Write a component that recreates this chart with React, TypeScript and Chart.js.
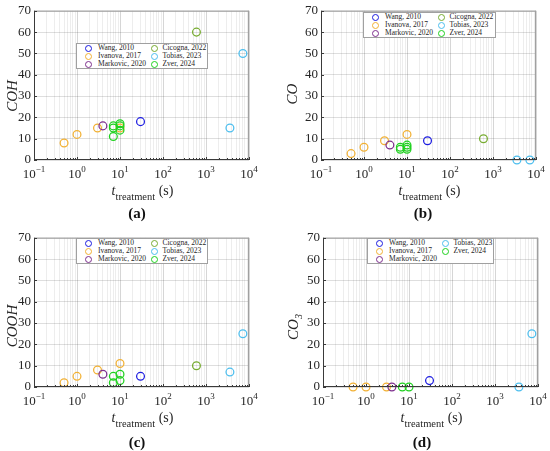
import { useEffect, useRef } from 'react'
import { Chart, registerables } from 'chart.js'
import type { Plugin } from 'chart.js'

Chart.register(...registerables)

const SERIF = '"Liberation Serif", "Times New Roman", serif'

// studies shown in the legends, with MATLAB-like marker colours
const studies = ['Wang, 2010', 'Ivanova, 2017', 'Markovic, 2020', 'Cicogna, 2022', 'Tobias, 2023', 'Zver, 2024']
const studyColors = ['#1c1ce0', '#f2b134', '#7e2f8e', '#77ac30', '#4dbeee', '#1fd11f']

// treatment times (s)
const tWang = [30]
const tIvanova = [0.5, 1, 3, 10]
const tIvanovaCO3 = [0.5, 1, 3]
const tMarkovic = [4]
const tCicogna = [600]
const tTobias = [3600, 7200]
const tZverCOH = [7, 7, 7, 10, 10, 10]
const tZverCO = [7, 7, 10, 10, 10]
const tZverCOOH = [7, 7, 10, 10]
const tZverCO3 = [7, 10]

// (a) COH
const cohWang = [18]
const cohIvanova = [8, 12, 15, 15]
const cohMarkovic = [16]
const cohCicogna = [60]
const cohTobias = [15, 50]
const cohZver = [11, 15, 16, 14, 16, 17]

// (b) CO
const coWang = [9]
const coIvanova = [3, 6, 9, 12]
const coMarkovic = [7]
const coCicogna = [10]
const coTobias = [0, 0]
const coZver = [5, 6, 5, 6, 7]

// (c) COOH
const coohWang = [5]
const coohIvanova = [2, 5, 8, 11]
const coohMarkovic = [6]
const coohCicogna = [10]
const coohTobias = [7, 25]
const coohZver = [2, 5, 3, 6]

// (d) CO3
const co3Wang = [3]
const co3Ivanova = [0, 0, 0]
const co3Markovic = [0]
const co3Tobias = [0, 25]
const co3Zver = [0, 0]

// axes
const xMin = 0.1
const xMax = 10000
const xDecades = [-1, 0, 1, 2, 3, 4]
const yMin = 0
const yMax = 70
const yStep = 10

// grid positions for the log axis: 1..9 x 10^n
const xGrid: number[] = []
xDecades.forEach((e) => {
  if (e === 4) { xGrid.push(10 ** e); return }
  for (let k = 1; k <= 9; k++) xGrid.push(Number((k * 10 ** e).toPrecision(3)))
})

type Series = [number, number[], number[]]

interface PanelDef {
  id: string
  left: number
  top: number
  width: number
  height: number
  areaLeft: number
  yName: string
  ySub: string
  yTitleX: number
  yTitleY: number
  series: Series[]
  legendCols: number[][]
  legend: { left: number; top: number; width: number }
  label: { x: number; y: number }
}

const panels: PanelDef[] = [
  {
    id: 'a', left: 0, top: 0, width: 275, height: 225, areaLeft: 34, yName: 'COH', ySub: '', yTitleX: 17, yTitleY: 96,
    series: [[0, tWang, cohWang], [1, tIvanova, cohIvanova], [2, tMarkovic, cohMarkovic], [3, tCicogna, cohCicogna], [4, tTobias, cohTobias], [5, tZverCOH, cohZver]],
    legendCols: [[0, 1, 2], [3, 4, 5]], legend: { left: 76, top: 43, width: 132 }, label: { x: 137, y: 213 },
  },
  {
    id: 'b', left: 280, top: 0, width: 270, height: 225, areaLeft: 41, yName: 'CO', ySub: '', yTitleX: 17, yTitleY: 94,
    series: [[0, tWang, coWang], [1, tIvanova, coIvanova], [2, tMarkovic, coMarkovic], [3, tCicogna, coCicogna], [4, tTobias, coTobias], [5, tZverCO, coZver]],
    legendCols: [[0, 1, 2], [3, 4, 5]], legend: { left: 83, top: 12, width: 133 }, label: { x: 143, y: 213 },
  },
  {
    id: 'c', left: 0, top: 227, width: 275, height: 224, areaLeft: 34, yName: 'COOH', ySub: '', yTitleX: 17, yTitleY: 99,
    series: [[0, tWang, coohWang], [1, tIvanova, coohIvanova], [2, tMarkovic, coohMarkovic], [3, tCicogna, coohCicogna], [4, tTobias, coohTobias], [5, tZverCOOH, coohZver]],
    legendCols: [[0, 1, 2], [3, 4, 5]], legend: { left: 76, top: 11, width: 132 }, label: { x: 137, y: 215 },
  },
  {
    id: 'd', left: 280, top: 227, width: 270, height: 224, areaLeft: 43, yName: 'CO', ySub: '3', yTitleX: 18, yTitleY: 100,
    series: [[0, tWang, co3Wang], [1, tIvanovaCO3, co3Ivanova], [2, tMarkovic, co3Markovic], [4, tTobias, co3Tobias], [5, tZverCO3, co3Zver]],
    legendCols: [[0, 1, 2], [4, 5]], legend: { left: 87, top: 11, width: 127 }, label: { x: 142, y: 215 },
  },
]

// plot size shared by every panel
const PLOT_W = 215
const PLOT_TOP = 10
const PLOT_BOTTOM = 160

function axesPlugin(p: PanelDef): Plugin<'scatter'> {
  return {
    id: 'matlabAxes' + p.id,
    afterDraw(chart) {
      const { ctx, chartArea } = chart
      const { left, right, top, bottom } = chartArea
      const xs = chart.scales.x
      const ys = chart.scales.y
      ctx.save()

      // box
      ctx.lineWidth = 1
      ctx.strokeStyle = '#a0a0a0'
      ctx.beginPath()
      ctx.moveTo(left, top + 0.5)
      ctx.lineTo(right, top + 0.5)
      ctx.moveTo(right - 0.5, top)
      ctx.lineTo(right - 0.5, bottom)
      ctx.stroke()
      ctx.strokeStyle = '#3a3a3a'
      ctx.beginPath()
      ctx.moveTo(left + 0.5, top)
      ctx.lineTo(left + 0.5, bottom)
      ctx.moveTo(left, bottom - 0.5)
      ctx.lineTo(right, bottom - 0.5)
      ctx.stroke()

      // inward ticks
      ctx.beginPath()
      xs.ticks.forEach((t) => {
        const px = Math.round(xs.getPixelForValue(t.value)) + 0.5
        const len = xDecades.some((e) => Math.abs(10 ** e - t.value) < 1e-9) ? 3 : 2
        ctx.moveTo(px, bottom)
        ctx.lineTo(px, bottom - len)
      })
      ys.ticks.forEach((t) => {
        const py = Math.round(ys.getPixelForValue(t.value)) + 0.5
        ctx.moveTo(left, py)
        ctx.lineTo(left + 3, py)
      })
      ctx.stroke()

      // x tick labels: 10^n
      ctx.fillStyle = '#262626'
      ctx.textBaseline = 'alphabetic'
      ctx.textAlign = 'left'
      xDecades.forEach((e) => {
        const px = xs.getPixelForValue(10 ** e)
        const exp = String(e).replace('-', '\u2212')
        ctx.font = `13px ${SERIF}`
        const wb = ctx.measureText('10').width
        ctx.font = `9px ${SERIF}`
        const we = ctx.measureText(exp).width
        const x0 = px - (wb + we) / 2
        ctx.font = `13px ${SERIF}`
        ctx.fillText('10', x0, bottom + 18)
        ctx.font = `9px ${SERIF}`
        ctx.fillText(exp, x0 + wb, bottom + 12)
      })

      // x title: t_treatment (s)
      ctx.font = `italic 14px ${SERIF}`
      const wt = ctx.measureText('t').width
      ctx.font = `10.5px ${SERIF}`
      const wsub = ctx.measureText('treatment').width
      ctx.font = `14px ${SERIF}`
      const wunit = ctx.measureText(' (s)').width
      let tx = (left + right) / 2 + 1 - (wt + wsub + wunit) / 2
      ctx.font = `italic 14px ${SERIF}`
      ctx.fillText('t', tx, bottom + 35)
      tx += wt
      ctx.font = `10.5px ${SERIF}`
      ctx.fillText('treatment', tx, bottom + 40)
      tx += wsub
      ctx.font = `14px ${SERIF}`
      ctx.fillText(' (s)', tx, bottom + 35)

      // y title, rotated (baseline at yTitleX)
      ctx.translate(p.yTitleX, p.yTitleY)
      ctx.rotate(-Math.PI / 2)
      ctx.font = `italic 15px ${SERIF}`
      const wm = ctx.measureText(p.yName).width
      ctx.font = `italic 10px ${SERIF}`
      const ws = p.ySub ? ctx.measureText(p.ySub).width : 0
      const y0 = -(wm + ws) / 2
      ctx.font = `italic 15px ${SERIF}`
      ctx.fillText(p.yName, y0, 0)
      if (p.ySub) {
        ctx.font = `italic 10px ${SERIF}`
        ctx.fillText(p.ySub, y0 + wm, 4)
      }
      ctx.restore()
    },
  }
}

function Panel({ p }: { p: PanelDef }) {
  const canvasRef = useRef<HTMLCanvasElement>(null)

  useEffect(() => {
    if (!canvasRef.current) return
    const areaRight = p.areaLeft + PLOT_W
    const chart = new Chart(canvasRef.current, {
      type: 'scatter',
      data: {
        datasets: p.series.map(([si, ts, vs]) => ({
          label: studies[si],
          data: ts.map((t, i) => ({ x: t, y: vs[i] })),
          borderColor: studyColors[si],
          backgroundColor: 'rgba(0,0,0,0)',
          pointStyle: 'circle',
          pointRadius: 3.9,
          pointBorderWidth: 1.25,
          clip: false,
          order: -si,
        })),
      },
      options: {
        animation: false,
        responsive: false,
        events: [],
        layout: { padding: { left: 0, top: PLOT_TOP, right: p.width - areaRight, bottom: 0 } },
        plugins: { legend: { display: false }, tooltip: { enabled: false } },
        scales: {
          x: {
            type: 'logarithmic',
            min: xMin,
            max: xMax,
            afterBuildTicks: (scale) => {
              scale.ticks = xGrid.map((v) => ({ value: v }))
            },
            afterFit: (scale) => {
              scale.height = p.height - PLOT_BOTTOM
            },
            ticks: { autoSkip: false, maxRotation: 0, callback: () => '' },
            grid: {
              drawTicks: false,
              lineWidth: 1,
              color: (ctx) => {
                const v = ctx.tick ? ctx.tick.value : 0
                const major = xDecades.some((e) => Math.abs(10 ** e - v) < 1e-9)
                return major ? 'rgba(0,0,0,0.16)' : 'rgba(0,0,0,0.07)'
              },
            },
            border: { display: false },
          },
          y: {
            min: yMin,
            max: yMax,
            afterFit: (scale) => {
              scale.width = p.areaLeft
            },
            ticks: {
              stepSize: yStep,
              padding: 3,
              color: '#262626',
              font: { family: SERIF, size: 13 },
            },
            grid: { drawTicks: false, color: 'rgba(0,0,0,0.13)', lineWidth: 1 },
            border: { display: false },
          },
        },
      },
      plugins: [axesPlugin(p)],
    })
    return () => chart.destroy()
  }, [p])

  const lg = p.legend
  return (
    <div style={{ position: 'absolute', left: p.left, top: p.top, width: p.width, height: p.height }}>
      <canvas ref={canvasRef} width={p.width} height={p.height} style={{ display: 'block' }} />
      <div
        style={{
          position: 'absolute', left: lg.left, top: lg.top, width: lg.width, height: 26,
          boxSizing: 'border-box', border: '1px solid #a0a0a0', background: '#fff',
          fontFamily: SERIF, fontSize: 7.5, color: '#262626',
        }}
      >
        {p.legendCols.map((col, c) =>
          col.map((si, r) => (
            <div
              key={si}
              style={{
                position: 'absolute', left: c === 0 ? 7.5 : 73.5, top: 8 * r, height: 8,
                display: 'flex', alignItems: 'center', whiteSpace: 'nowrap', lineHeight: '8px',
              }}
            >
              <span
                style={{
                  display: 'inline-block', width: 7, height: 7, boxSizing: 'border-box', borderRadius: '50%',
                  border: `1.2px solid ${studyColors[si]}`, marginRight: c === 0 ? 6.5 : 5,
                }}
              />
              {studies[si]}
            </div>
          ))
        )}
      </div>
      <div
        style={{
          position: 'absolute', left: p.label.x - 20, top: p.label.y - 9, width: 40, height: 18,
          textAlign: 'center', lineHeight: '18px', fontFamily: SERIF, fontWeight: 'bold', fontSize: 15, color: '#111',
        }}
      >
        ({p.id})
      </div>
    </div>
  )
}

export default function App() {
  return (
    <div style={{ position: 'absolute', left: 0, top: 0, width: 550, height: 451, overflow: 'hidden', background: '#fff' }}>
      {panels.map((p) => (
        <Panel key={p.id} p={p} />
      ))}
    </div>
  )
}
